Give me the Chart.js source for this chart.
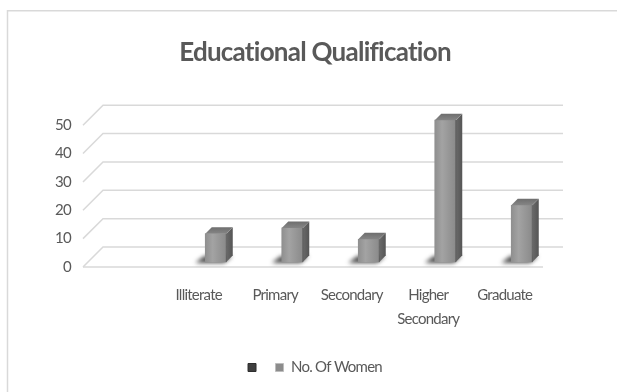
<!DOCTYPE html>
<html><head><meta charset="utf-8">
<script src="https://cdn.jsdelivr.net/npm/chart.js@4.4.1/dist/chart.umd.min.js"></script>
<style>html,body{margin:0;padding:0;background:#fff;overflow:hidden}</style>
</head><body>
<canvas id="c" width="617" height="392"></canvas>
<script>
const chartTitle = 'Educational Qualification';
const categories = ['', 'Illiterate', 'Primary', 'Secondary', 'Higher Secondary', 'Graduate'];
const seriesNames = ['', 'No. Of Women'];
const blankSeries = [null, null, null, null, null, null];
const womenCounts = [null, 10, 12, 8, 50, 20];
const yTicks = [0, 10, 20, 30, 40, 50];

const FONT = "Lato, 'Liberation Sans', sans-serif";
const TXT = '#595959';
const GRID = '#d9d9d9';
const DX = 6.5, DY = 6.5; // bar depth
const SPACING = '-0.75px';

const deco = {
  id: 'deco',
  beforeInit(chart) { chart.ctx.letterSpacing = SPACING; },
  beforeUpdate(chart) { chart.ctx.letterSpacing = SPACING; },
  beforeDraw(chart) {
    const c = chart.ctx;
    c.letterSpacing = SPACING;
    c.save();
    c.fillStyle = '#fff';
    c.fillRect(0, 0, chart.width, chart.height);
    c.strokeStyle = GRID; c.lineWidth = 1.5;
    c.strokeRect(7.5, 10.75, chart.width + 40, chart.height + 40);
    c.restore();
  },
  beforeDatasetsDraw(chart) {
    const {ctx, chartArea: a, scales: {y}} = chart;
    ctx.save();
    ctx.strokeStyle = GRID; ctx.lineWidth = 1.5;
    const backL = a.left + 2, backR = a.right + 3;
    const frontL = backL - 20, frontR = backR - 20;
    yTicks.forEach(v => {
      const p = y.getPixelForValue(v);
      const yb = p - 15, yf = p + 5;
      ctx.beginPath(); ctx.moveTo(frontL, yf); ctx.lineTo(backL, yb); ctx.lineTo(backR, yb); ctx.stroke();
    });
    const p0 = y.getPixelForValue(0) + 5;
    ctx.beginPath(); ctx.moveTo(frontL, p0); ctx.lineTo(frontR, p0); ctx.stroke();
    // floor shadows
    const meta = chart.getDatasetMeta(1);
    ctx.filter = 'blur(2px)';
    ctx.fillStyle = 'rgba(35,35,35,0.8)';
    meta.data.forEach((el, i) => {
      if (womenCounts[i] == null) return;
      const l = el.x - el.width / 2, r = el.x + el.width / 2, b = el.base;
      ctx.beginPath();
      ctx.moveTo(l - 10, b + 1);
      ctx.lineTo(r - 2, b + 1);
      ctx.lineTo(r + 6, b - 6);
      ctx.lineTo(l - 1, b - 6);
      ctx.closePath();
      ctx.fill();
    });
    ctx.filter = 'none';
    ctx.restore();
  },
  afterDatasetsDraw(chart) {
    const ctx = chart.ctx;
    const meta = chart.getDatasetMeta(1);
    ctx.save();
    meta.data.forEach((el, i) => {
      if (womenCounts[i] == null) return;
      const l = el.x - el.width / 2, r = el.x + el.width / 2, t = el.y, b = el.base;
      const gs = ctx.createLinearGradient(r, 0, r + DX, 0);
      gs.addColorStop(0, '#6a6a6a'); gs.addColorStop(1, '#555555');
      ctx.fillStyle = gs;
      ctx.beginPath();
      ctx.moveTo(r, t); ctx.lineTo(r + DX, t - DY); ctx.lineTo(r + DX, b - DY); ctx.lineTo(r, b);
      ctx.closePath(); ctx.fill();
      const gt = ctx.createLinearGradient(0, t - DY, 0, t);
      gt.addColorStop(0, '#6e6e6e'); gt.addColorStop(1, '#858585');
      ctx.fillStyle = gt;
      ctx.beginPath();
      ctx.moveTo(l, t); ctx.lineTo(l + DX, t - DY); ctx.lineTo(r + DX, t - DY); ctx.lineTo(r, t);
      ctx.closePath(); ctx.fill();
      ctx.strokeStyle = 'rgba(70,70,70,0.6)'; ctx.lineWidth = 0.8;
      ctx.beginPath(); ctx.moveTo(r, t); ctx.lineTo(r, b); ctx.stroke();
    });
    ctx.restore();
  }
};

function frontFill(ctx) {
  const chart = ctx.chart;
  if (!chart.chartArea || ctx.type !== 'data') return '#969696';
  const x = chart.scales.x.getPixelForValue(ctx.dataIndex);
  const g = chart.ctx.createLinearGradient(x - 10.5, 0, x + 10.5, 0);
  g.addColorStop(0, '#8f8f8f');
  g.addColorStop(0.35, '#a3a3a3');
  g.addColorStop(1, '#8a8a8a');
  return g;
}

new Chart(document.getElementById('c'), {
  type: 'bar',
  data: {
    labels: categories,
    datasets: [
      { label: seriesNames[0], data: blankSeries, backgroundColor: '#3f3f3f' },
      { label: seriesNames[1], data: womenCounts, backgroundColor: frontFill }
    ]
  },
  options: {
    responsive: false,
    animation: false,
    devicePixelRatio: 1,
    layout: { padding: { left: 13, right: 0, top: 0, bottom: 7 } },
    datasets: { bar: { grouped: false, barThickness: 21, clip: false, borderWidth: 0 } },
    plugins: {
      title: {
        display: true, text: chartTitle, color: TXT,
        font: { family: FONT, size: 26, weight: 'bold' },
        padding: { top: 37, bottom: 52 }
      },
      legend: {
        position: 'bottom',
        labels: {
          boxWidth: 8, boxHeight: 8, padding: 12, color: TXT,
          font: { family: FONT, size: 15 },
          generateLabels(chart) {
            const fills = ['#3f3f3f', '#8c8c8c'];
            const strokes = ['#2e2e2e', '#bdbdbd'];
            return chart.data.datasets.map((ds, i) => ({
              text: ds.label, fillStyle: fills[i], strokeStyle: strokes[i], lineWidth: 1,
              fontColor: TXT, datasetIndex: i, hidden: false
            }));
          }
        }
      },
      tooltip: { enabled: false }
    },
    scales: {
      x: {
        grid: { display: false, drawTicks: false },
        border: { display: false },
        ticks: {
          color: TXT, autoSkip: false, maxRotation: 0, padding: 21, labelOffset: -17,
          font: { family: FONT, size: 15, lineHeight: '24px' },
          callback(v, i) { const s = categories[i]; return s.includes(' ') ? s.split(' ') : s; }
        },
        afterFit(s) { s.height = 86; }
      },
      y: {
        min: 0, max: 50,
        grid: { display: false, drawTicks: false },
        border: { display: false },
        ticks: {
          color: TXT, stepSize: 10, padding: 30, labelOffset: 5,
          font: { family: FONT, size: 15 }
        },
        afterFit(s) { s.width = 88; }
      },
      y2: {
        position: 'right', display: true,
        grid: { display: false, drawTicks: false },
        border: { display: false },
        ticks: { display: false },
        afterFit(s) { s.width = 57; }
      }
    }
  },
  plugins: [deco]
});
</script>
</body></html>
